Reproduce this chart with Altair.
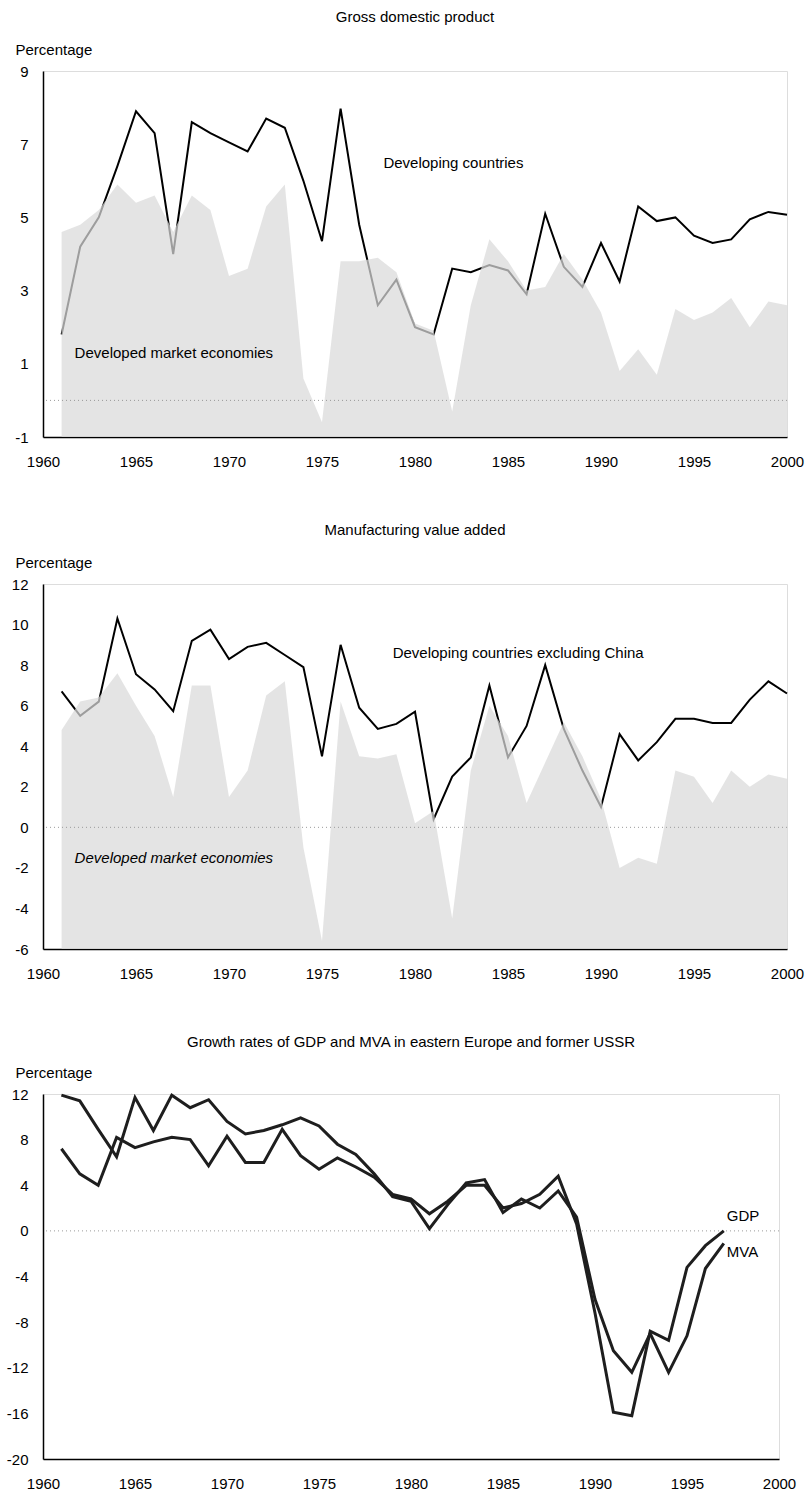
import altair as alt
import pandas as pd

FONT = "Liberation Sans"

# ---------------- data ----------------
years = list(range(1961, 2001))

# Panel 1: GDP growth (%)
developing_gdp = [1.8, 4.2, 5.0, 6.4, 7.9, 7.3, 4.0, 7.6, 7.3, 7.05,
                  6.8, 7.7, 7.45, 6.0, 4.35, 7.97, 4.8, 2.6, 3.3, 2.0,
                  1.8, 3.6, 3.5, 3.7, 3.55, 2.9, 5.1, 3.65, 3.1, 4.3,
                  3.25, 5.3, 4.9, 5.0, 4.5, 4.3, 4.4, 4.95, 5.15, 5.07]
developed_gdp = [4.6, 4.8, 5.2, 5.9, 5.4, 5.6, 4.6, 5.6, 5.2, 3.4,
                 3.6, 5.3, 5.9, 0.6, -0.6, 3.8, 3.8, 3.9, 3.5, 2.1,
                 1.9, -0.3, 2.6, 4.4, 3.8, 3.0, 3.1, 4.0, 3.3, 2.4,
                 0.8, 1.4, 0.7, 2.5, 2.2, 2.4, 2.8, 2.0, 2.7, 2.6]

# Panel 2: MVA growth (%)
developing_mva = [6.7, 5.5, 6.2, 10.3, 7.55, 6.8, 5.73, 9.2, 9.75, 8.3,
                  8.9, 9.1, 8.5, 7.9, 3.5, 9.0, 5.9, 4.85, 5.1, 5.7,
                  0.4, 2.5, 3.45, 7.0, 3.45, 5.0, 8.0, 4.85, 2.8, 1.0,
                  4.6, 3.3, 4.2, 5.35, 5.35, 5.15, 5.15, 6.3, 7.2, 6.6]
developed_mva = [4.8, 6.2, 6.4, 7.6, 6.0, 4.5, 1.5, 7.0, 7.0, 1.5,
                 2.8, 6.5, 7.2, -1.0, -5.6, 6.2, 3.5, 3.4, 3.6, 0.2,
                 0.8, -4.5, 2.8, 6.0, 4.5, 1.2, 3.2, 5.2, 3.5, 1.4,
                 -2.0, -1.5, -1.8, 2.8, 2.5, 1.2, 2.8, 2.0, 2.6, 2.4]

# Panel 3: eastern Europe and former USSR (%)
years_ee = list(range(1961, 1998))
ee_gdp = [7.2, 5.0, 4.0, 8.2, 7.3, 7.8, 8.2, 8.0, 5.7, 8.3,
          6.0, 6.0, 8.9, 6.6, 5.4, 6.4, 5.6, 4.7, 3.2, 2.8,
          1.5, 2.6, 4.0, 4.0, 2.0, 2.4, 3.2, 4.8, 0.6, -7.2,
          -15.9, -16.2, -8.8, -9.6, -3.2, -1.3, 0.0]
ee_mva = [11.9, 11.4, 8.9, 6.5, 11.7, 8.8, 11.9, 10.8, 11.5, 9.6,
          8.5, 8.8, 9.3, 9.9, 9.2, 7.6, 6.7, 5.0, 3.0, 2.6,
          0.2, 2.3, 4.2, 4.5, 1.6, 2.8, 2.0, 3.5, 1.2, -6.0,
          -10.5, -12.4, -9.0, -12.4, -9.2, -3.3, -1.1]

x_ticks = list(range(1960, 2001, 5))

df1 = pd.DataFrame({"year": years, "developing": developing_gdp, "developed": developed_gdp})
df2 = pd.DataFrame({"year": years, "developing": developing_mva, "developed": developed_mva})
df3 = pd.DataFrame({"year": years_ee * 2,
                    "value": ee_gdp + ee_mva,
                    "series": ["GDP"] * len(years_ee) + ["MVA"] * len(years_ee)})


def x_enc():
    return alt.X("year:Q",
                 scale=alt.Scale(domain=[1960, 2000], nice=False, zero=False),
                 axis=alt.Axis(values=x_ticks, labelExpr="'' + datum.value", title=None,
                               ticks=False, grid=False, labelFlush=False, labelOverlap=False,
                               labelPadding=17, domainColor="black", domainWidth=1.5,
                               labelFont=FONT, labelFontSize=15, labelColor="black"))


def y_enc(field, lo, hi, step):
    return alt.Y(field,
                 scale=alt.Scale(domain=[lo, hi], nice=False, zero=False),
                 axis=alt.Axis(values=list(range(lo, hi + 1, step)), title="Percentage",
                               labelExpr="'' + datum.value",
                               titleAngle=0, titleAlign="left", titleBaseline="alphabetic",
                               titleX=-28, titleY=-17, titleFont=FONT, titleFontSize=15,
                               titleFontWeight="normal", titleColor="black",
                               ticks=False, grid=False, labelFlush=False, labelOverlap=False,
                               labelPadding=15, domainColor="black", domainWidth=1.5,
                               labelFont=FONT, labelFontSize=15, labelColor="black"))


def title(text, offset=17):
    return alt.TitleParams(text, font=FONT, fontSize=15, fontWeight="normal",
                           color="black", anchor="middle", offset=offset)


def zero_rule():
    return alt.Chart(pd.DataFrame({"z": [0]})).mark_rule(
        color="#9a9a9a", strokeDash=[1, 3], strokeWidth=1).encode(y="z:Q")


def label(text, x, y, italic=False, dx=0):
    return alt.Chart(pd.DataFrame({"t": [text]})).mark_text(
        align="left", baseline="middle", font=FONT, fontSize=15, color="black",
        fontStyle="italic" if italic else "normal", dx=dx
    ).encode(x=alt.datum(x), y=alt.datum(y), text="t:N")


def shaded_panel(df, lo, hi, step, ttl, dev_label, dev_italic, dvl_label, dvl_pos, width, height):
    base = alt.Chart(df)
    area = base.mark_area(color="#dadada", opacity=0.72, interpolate="linear").encode(
        x=x_enc(), y=y_enc("developed:Q", lo, hi, step), y2=alt.datum(lo))
    line = base.mark_line(color="black", strokeWidth=2).encode(
        x=x_enc(), y=y_enc("developing:Q", lo, hi, step))
    return alt.layer(
        line, area, zero_rule(),
        label(dev_label[0], dev_label[1], dev_label[2], italic=dev_italic),
        label(dvl_label, dvl_pos[0], dvl_pos[1]),
    ).properties(width=width, height=height, title=title(ttl))


p1 = shaded_panel(df1, -1, 9, 1, "Gross domestic product",
                  ("Developed market economies", 1961.7, 1.3), False,
                  "Developing countries", (1978.3, 6.5), 744, 366)
p2 = shaded_panel(df2, -6, 12, 2, "Manufacturing value added",
                  ("Developed market economies", 1961.7, -1.5), True,
                  "Developing countries excluding China", (1978.8, 8.6), 744, 365)

lines3 = alt.Chart(df3).mark_line(color="#1e1e1e", strokeWidth=3).encode(
    x=x_enc(), y=y_enc("value:Q", -20, 12, 4), detail="series:N")
p3 = alt.layer(
    zero_rule(), lines3,
    label("GDP", 1997, 1.3, dx=3),
    label("MVA", 1997, -1.85, dx=3),
).properties(width=736, height=365,
             title=title("Growth rates of GDP and MVA in eastern Europe and former USSR", 15))

chart = alt.vconcat(p1, p2, p3, spacing=52).properties(
    padding={"left": 5, "top": 9, "right": 0, "bottom": 0}
).configure_view(stroke=None).configure(background="white")

chart.save("out.html", embed_options={"renderer": "svg", "actions": False})
